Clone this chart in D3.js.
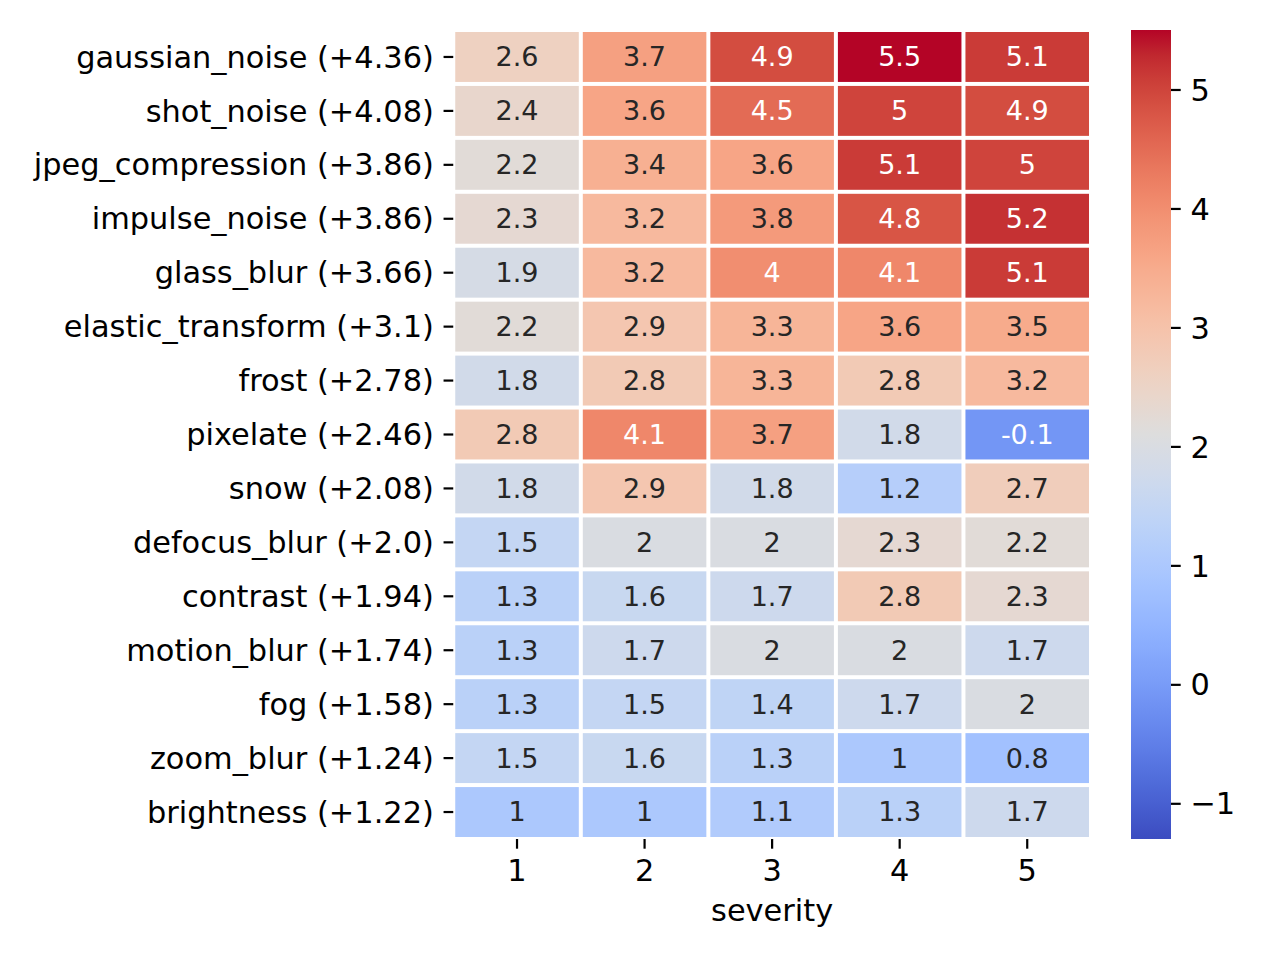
<!DOCTYPE html>
<html>
<head>
<meta charset="utf-8">
<script src="https://cdn.jsdelivr.net/npm/d3@7"></script>
<style>
  html, body { margin: 0; padding: 0; background: #fff; }
  text { font-family: "DejaVu Sans", sans-serif; }
</style>
</head>
<body>
<svg id="chart" width="1280" height="960"></svg>
<script>
// ---- data ----
const rowLabels = [
  "gaussian_noise (+4.36)", "shot_noise (+4.08)", "jpeg_compression (+3.86)",
  "impulse_noise (+3.86)", "glass_blur (+3.66)", "elastic_transform (+3.1)",
  "frost (+2.78)", "pixelate (+2.46)", "snow (+2.08)", "defocus_blur (+2.0)",
  "contrast (+1.94)", "motion_blur (+1.74)", "fog (+1.58)", "zoom_blur (+1.24)",
  "brightness (+1.22)"
];
const severities = ["1", "2", "3", "4", "5"];
const values = [
  [2.6, 3.7, 4.9, 5.5, 5.1],
  [2.4, 3.6, 4.5, 5.0, 4.9],
  [2.2, 3.4, 3.6, 5.1, 5.0],
  [2.3, 3.2, 3.8, 4.8, 5.2],
  [1.9, 3.2, 4.0, 4.1, 5.1],
  [2.2, 2.9, 3.3, 3.6, 3.5],
  [1.8, 2.8, 3.3, 2.8, 3.2],
  [2.8, 4.1, 3.7, 1.8, -0.1],
  [1.8, 2.9, 1.8, 1.2, 2.7],
  [1.5, 2.0, 2.0, 2.3, 2.2],
  [1.3, 1.6, 1.7, 2.8, 2.3],
  [1.3, 1.7, 2.0, 2.0, 1.7],
  [1.3, 1.5, 1.4, 1.7, 2.0],
  [1.5, 1.6, 1.3, 1.0, 0.8],
  [1.0, 1.0, 1.1, 1.3, 1.7]
];
const colorDomain = [-1.3, 5.5];
const cbarTicks = [-1, 0, 1, 2, 3, 4, 5];
const xLabel = "severity";

// matplotlib coolwarm control points
const cwR = [0.2298057,0.26623388,0.30386891,0.342804478,0.38301334,0.424369608,0.46666708,0.509635204,0.552953156,0.596262162,0.639176211,0.681291281,0.722193294,0.761464949,0.798691636,0.833466556,0.865395197,0.897787179,0.924127593,0.944468518,0.958852946,0.96732803,0.969954137,0.966811177,0.958003065,0.943660866,0.923944917,0.89904617,0.869186849,0.834620542,0.795631745,0.752534934,0.705673158];
const cwG = [0.298717966,0.353094838,0.406535296,0.458757618,0.50941904,0.558148092,0.604562568,0.648280772,0.688929332,0.726149107,0.759599947,0.788964712,0.813952739,0.834302879,0.849786142,0.860207984,0.86541021,0.848937047,0.827384882,0.800927443,0.769767752,0.734132809,0.694266682,0.650421156,0.602842431,0.551750968,0.49730856,0.439559467,0.378313092,0.312874446,0.24128379,0.157246067,0.01555616];
const cwB = [0.753683153,0.801466763,0.84495867,0.883725899,0.917387822,0.945619588,0.968154911,0.98478814,0.995375608,0.999836203,0.998151185,0.990363227,0.976574709,0.956945269,0.931689014,0.901068838,0.865395561,0.820880546,0.774508472,0.726736146,0.678007945,0.628751763,0.579375448,0.530263762,0.481775914,0.434243684,0.387970225,0.343229596,0.300267182,0.259301199,0.220525627,0.184115123,0.150232812];

// ---- layout ----
const svg = d3.select("#chart");
const fs = 30.4;      // tick / axis labels
const fsAnnot = 27;   // cell annotations
const ax = { left: 453.25, right: 1091, top: 30, bottom: 839 };
const cb = { left: 1131, right: 1171, top: 30, bottom: 839 };
const lw = 4;

const stops = cwR.map((r, i) => d3.rgb(r * 255, cwG[i] * 255, cwB[i] * 255).toString());
const cmapT = d3.scaleLinear()
  .domain(stops.map((_, i) => i / (stops.length - 1)))
  .range(stops)
  .interpolate(d3.interpolateRgb)
  .clamp(true);
const norm = d3.scaleLinear().domain(colorDomain).range([0, 1]).clamp(true);
const color = v => cmapT(norm(v));

const x = d3.scaleBand().domain(severities).range([ax.left, ax.right]);
const y = d3.scaleBand().domain(rowLabels).range([ax.top, ax.bottom]);

function lum(c) {
  const rgb = d3.rgb(c);
  const lin = [rgb.r, rgb.g, rgb.b].map(v => {
    v /= 255;
    return v <= 0.03928 ? v / 12.92 : Math.pow((v + 0.055) / 1.055, 2.4);
  });
  return 0.2126 * lin[0] + 0.7152 * lin[1] + 0.0722 * lin[2];
}
const fmt = v => d3.format(".2~g")(v).replace("\u2212", "-");

const cells = [];
values.forEach((row, i) => row.forEach((v, j) => cells.push({ r: rowLabels[i], c: severities[j], v })));

const g = svg.append("g");
g.selectAll("rect.cell").data(cells).join("rect")
  .attr("class", "cell")
  .attr("x", d => x(d.c) + lw / 2)
  .attr("y", d => y(d.r) + lw / 2)
  .attr("width", x.bandwidth() - lw)
  .attr("height", y.bandwidth() - lw)
  .attr("fill", d => color(d.v));

g.selectAll("text.annot").data(cells).join("text")
  .attr("class", "annot")
  .attr("x", d => x(d.c) + x.bandwidth() / 2)
  .attr("y", d => y(d.r) + y.bandwidth() / 2)
  .attr("dy", "0.35em")
  .attr("text-anchor", "middle")
  .attr("font-size", fsAnnot)
  .attr("fill", d => lum(color(d.v)) > 0.408 ? "#262626" : "#ffffff")
  .text(d => fmt(d.v));

// axes
const yAxis = svg.append("g")
  .attr("transform", `translate(${ax.left},0)`)
  .call(d3.axisLeft(y).tickSize(9.7).tickPadding(9.7));
const xAxis = svg.append("g")
  .attr("transform", `translate(0,${ax.bottom})`)
  .call(d3.axisBottom(x).tickSize(9.7).tickPadding(9.7));
[yAxis, xAxis].forEach(a => {
  a.select(".domain").remove();
  a.selectAll(".tick line").attr("stroke", "#000").attr("stroke-width", 2.2);
  a.selectAll(".tick text").attr("font-size", fs).attr("fill", "#000")
    .attr("font-family", "DejaVu Sans, sans-serif");
});
yAxis.selectAll(".tick text").attr("dy", "0.35em");
xAxis.selectAll(".tick text").attr("dy", "0.75em");

svg.append("text")
  .attr("x", (ax.left + ax.right) / 2)
  .attr("y", 921)
  .attr("text-anchor", "middle")
  .attr("font-size", fs)
  .attr("fill", "#000")
  .text(xLabel);

// colorbar
const defs = svg.append("defs");
const grad = defs.append("linearGradient").attr("id", "cbgrad")
  .attr("x1", 0).attr("y1", 1).attr("x2", 0).attr("y2", 0);
const nStops = 64;
d3.range(nStops + 1).forEach(i => {
  const t = i / nStops;
  grad.append("stop").attr("offset", t).attr("stop-color", cmapT(t));
});
svg.append("rect")
  .attr("x", cb.left).attr("y", cb.top)
  .attr("width", cb.right - cb.left).attr("height", cb.bottom - cb.top)
  .attr("fill", "url(#cbgrad)");
const cy = d3.scaleLinear().domain(colorDomain).range([cb.bottom, cb.top]);
const cAxis = svg.append("g")
  .attr("transform", `translate(${cb.right},0)`)
  .call(d3.axisRight(cy).tickValues(cbarTicks).tickSize(9.7).tickPadding(9.7).tickFormat(d3.format("d")));
cAxis.select(".domain").remove();
cAxis.selectAll(".tick line").attr("stroke", "#000").attr("stroke-width", 2.2);
cAxis.selectAll(".tick text").attr("font-size", fs).attr("fill", "#000")
  .attr("font-family", "DejaVu Sans, sans-serif").attr("dy", "0.35em");
</script>
</body>
</html>
